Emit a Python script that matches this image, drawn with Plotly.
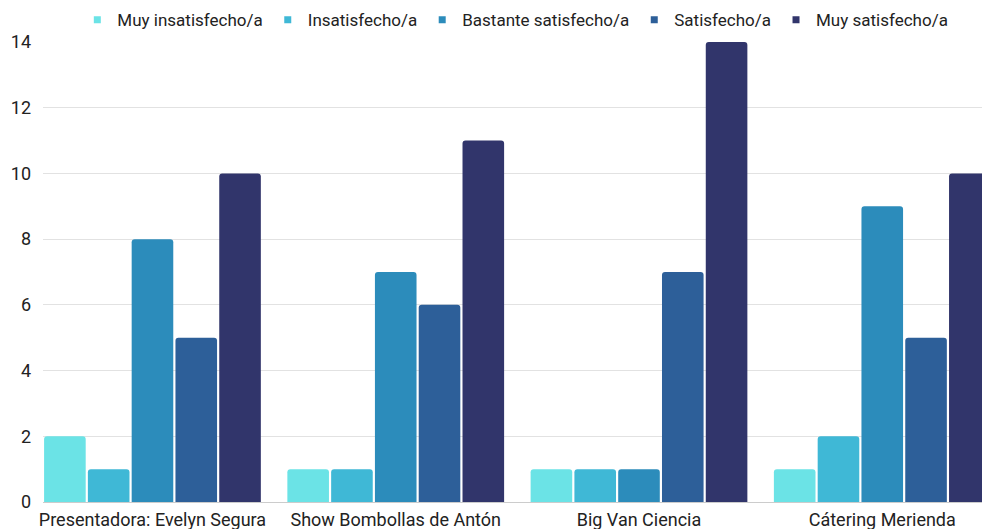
import plotly.graph_objects as go

categories = ["Presentadora: Evelyn Segura", "Show Bombollas de Antón", "Big Van Ciencia", "Cátering Merienda"]
series_names = ["Muy insatisfecho/a", "Insatisfecho/a", "Bastante satisfecho/a", "Satisfecho/a", "Muy satisfecho/a"]
muy_insatisfecho = [2, 1, 1, 1]
insatisfecho = [1, 1, 1, 2]
bastante_satisfecho = [8, 7, 1, 9]
satisfecho = [5, 6, 7, 5]
muy_satisfecho = [10, 11, 14, 10]
y_ticks = [0, 2, 4, 6, 8, 10, 12, 14]

colors = ["#6BE3E6", "#3FB8D6", "#2C8CBB", "#2D5F99", "#31356B"]
values = [muy_insatisfecho, insatisfecho, bastante_satisfecho, satisfecho, muy_satisfecho]

font = "Roboto, sans-serif"
fig = go.Figure()
for name, vals, col in zip(series_names, values, colors):
    fig.add_trace(go.Bar(x=categories, y=vals, name=name, marker_color=col,
                         marker_line_width=0, showlegend=False, legendgroup=name))
for name, col in zip(series_names, colors):
    fig.add_trace(go.Scatter(x=[None], y=[None], mode="markers", name=name, legendgroup=name,
                             marker=dict(symbol="square", size=7, color=col)))

fig.update_layout(
    width=982, height=529,
    margin=dict(l=43, r=0, t=42, b=27, autoexpand=False),
    paper_bgcolor="white", plot_bgcolor="white",
    barmode="group", bargap=0.1, bargroupgap=0.05, barcornerradius=3,
    font=dict(family=font, size=18, color="#222222"),
    legend=dict(orientation="h", x=0.503, xanchor="center", y=0.962, yanchor="middle",
                yref="container", font=dict(size=17, color="#222222"),
                itemwidth=30, tracegroupgap=0),
    xaxis=dict(type="category", range=[-0.45, 3.41], showgrid=False, showline=True,
               linecolor="#cccccc", linewidth=1, ticks="", tickfont=dict(size=18),
               ticklabelstandoff=1),
    yaxis=dict(range=[0, 14], tickvals=y_ticks, showgrid=True, gridcolor="#e2e2e2",
               gridwidth=1, zeroline=False, ticks="", tickfont=dict(size=18),
               ticklabelstandoff=11),
)
fig.write_html("out.html")
